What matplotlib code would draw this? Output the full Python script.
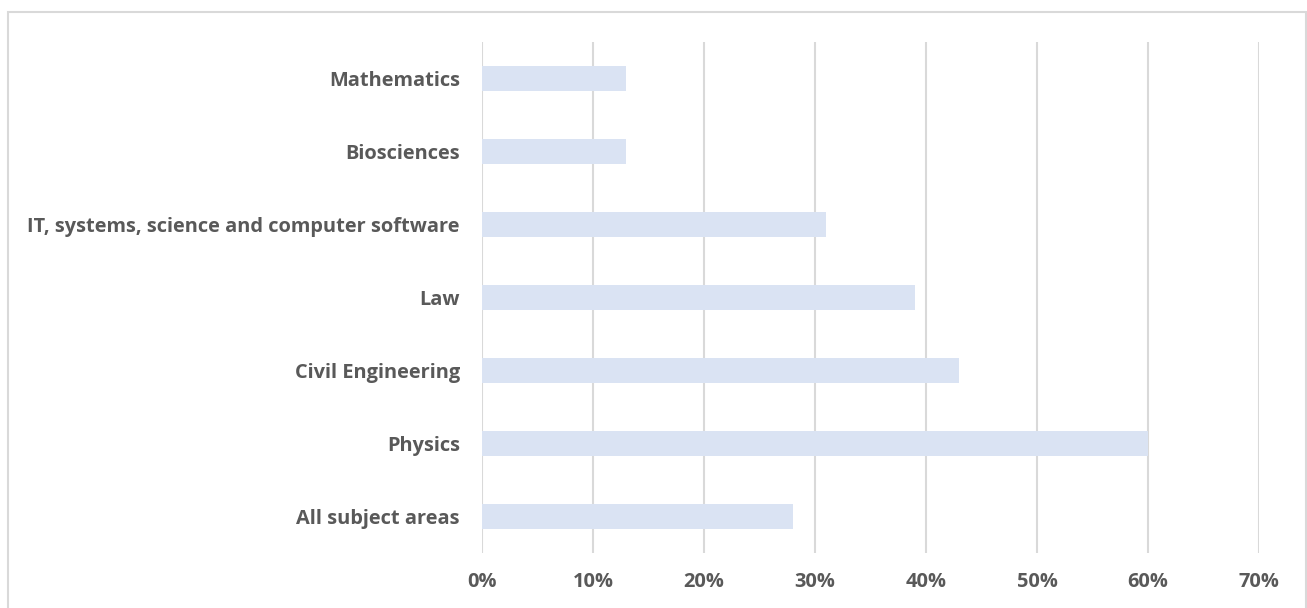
import matplotlib.pyplot as plt
from matplotlib.patches import Rectangle

categories = ["All subject areas", "Physics", "Civil Engineering", "Law",
              "IT, systems, science and computer software", "Biosciences", "Mathematics"]
values = [0.28, 0.60, 0.43, 0.39, 0.31, 0.13, 0.13]
xticks = [0, 0.1, 0.2, 0.3, 0.4, 0.5, 0.6, 0.7]
xlabels = ["0%", "10%", "20%", "30%", "40%", "50%", "60%", "70%"]

plt.rcParams['font.family'] = ['Open Sans', 'DejaVu Sans']
txt = '#595959'

fig = plt.figure(figsize=(13.07, 6.08), dpi=100)
ax = fig.add_axes([482/1307, 1-553/608, 777/1307, 511/608])

ax.barh(range(len(categories)), values, height=0.35, color='#DAE3F3', zorder=2)
ax.set_xlim(0, 0.7)
ax.set_ylim(-0.5, len(categories)-0.5)
ax.set_xticks(xticks)
ax.set_xticklabels(xlabels, fontsize=14.4, fontweight='bold', color=txt)
ax.set_yticks(range(len(categories)))
ax.set_yticklabels(categories, fontsize=14.4, fontweight='bold', color=txt)
ax.tick_params(axis='x', length=0, pad=14)
ax.tick_params(axis='y', length=0, pad=16)
ax.grid(axis='x', color='#D9D9D9', linewidth=1.5, zorder=0)
for s in ax.spines.values():
    s.set_visible(False)

# outer chart border
fig.patches.append(Rectangle((8/1307, -0.05), 1298/1307, 1.05 - 12/608,
                             transform=fig.transFigure, fill=False,
                             edgecolor='#D9D9D9', linewidth=1.5))

fig.savefig('out.png', dpi=100)
